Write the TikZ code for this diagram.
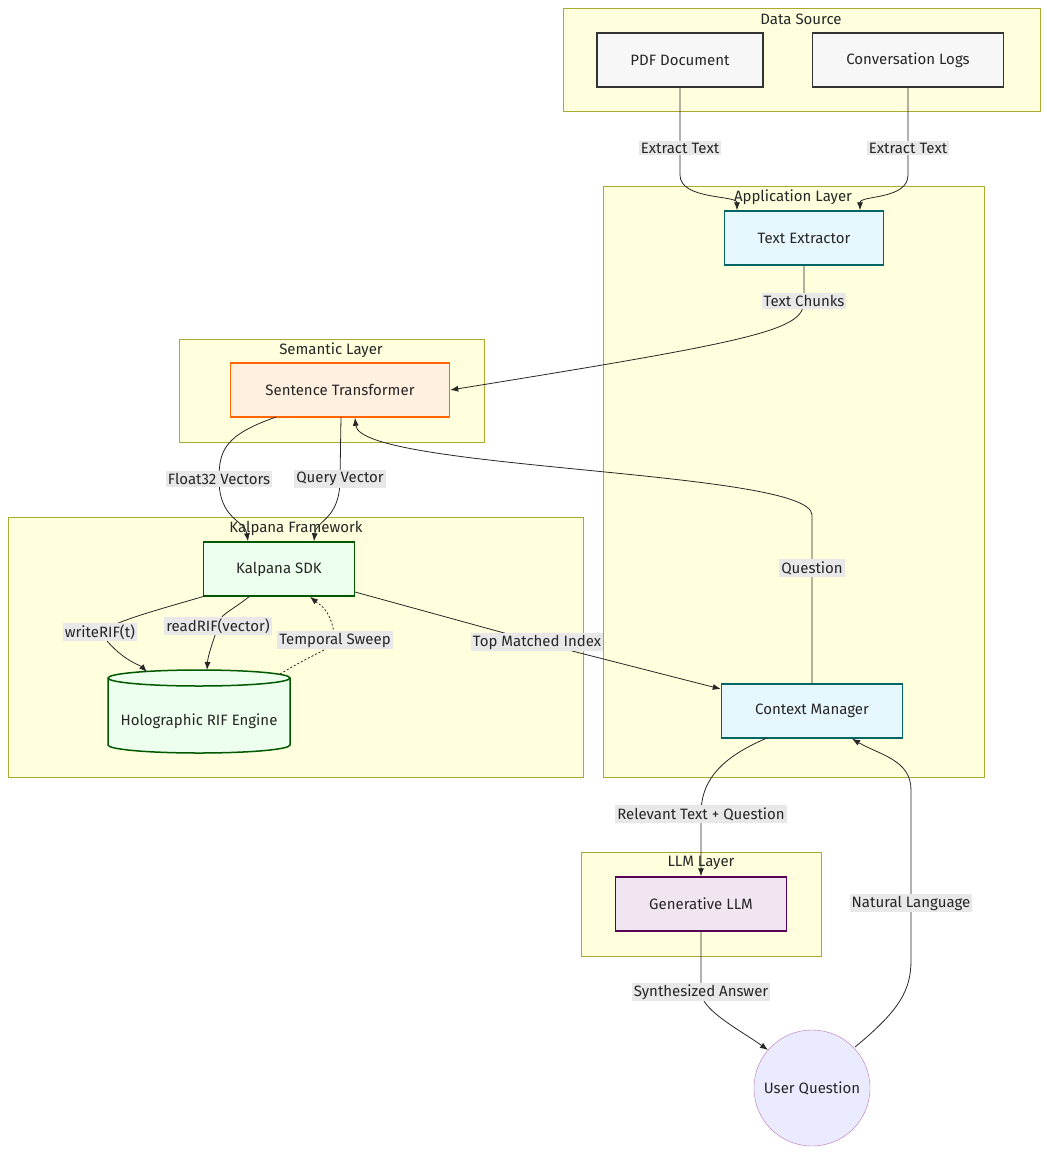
\documentclass[tikz,border=0pt]{standalone}
\usepackage{fontspec}
\setmainfont{Fira Sans}
\usetikzlibrary{arrows.meta}
\definecolor{clf}{HTML}{FFFFDE}\definecolor{clb}{HTML}{AAAA33}
\definecolor{lbg}{HTML}{E8E8E8}
\begin{document}
\begin{tikzpicture}[x=1pt,y=-1pt,font=\fontsize{15}{18}\selectfont,
 cl/.style={draw=clb,fill=clf,line width=0.8pt},
 ctitle/.style={inner sep=0pt,text=black!85},
 box/.style={draw,line width=1.5pt,minimum height=54pt,inner sep=0pt,text=black!85},
 gray/.style={box,fill=black!3,draw=black!80},
 teal/.style={box,fill=cyan!10,draw=teal!80!black},
 lbl/.style={fill=lbg,inner sep=2pt,text=black!85},
 e/.style={draw=black!85,line width=0.8pt,-{Latex[length=8pt,width=6pt]}}]
\useasboundingbox (0,0) rectangle (1048,1156);
% clusters
\draw[cl] (563,8) rectangle (1040,111); \node[ctitle] at (801,19) {Data Source};
\draw[cl] (603,186) rectangle (984,777); \node[ctitle] at (793,197) {Application Layer};
\draw[cl] (179,339) rectangle (484,442); \node[ctitle] at (331,350) {Semantic Layer};
\draw[cl] (8,517) rectangle (583,777); \node[ctitle] at (296,528) {Kalpana Framework};
\draw[cl] (581,852) rectangle (821,956); \node[ctitle] at (701,863) {LLM Layer};
% nodes
\node[gray,minimum width=166pt] (pdf) at (680,60) {PDF Document};
\node[gray,minimum width=191pt] (conv) at (908,60) {Conversation Logs};
\node[teal,minimum width=159pt] (te) at (804,238) {Text Extractor};
\node[box,fill=orange!12,draw=orange!80!red,minimum width=219pt] (st) at (340,390) {Sentence Transformer};
\node[box,fill=green!7,draw=green!35!black,minimum width=151pt] (sdk) at (279,569) {Kalpana SDK};
\node[teal,minimum width=181pt] (cm) at (812,711) {Context Manager};
\node[box,fill=violet!10,draw=violet!70!black,minimum width=171pt] (llm) at (701,904) {Generative LLM};
\node[circle,draw=violet!55,fill=blue!8,minimum size=116pt,inner sep=0pt,text=black!85] (uq) at (812,1088) {User Question};
\node[minimum width=182pt,minimum height=83pt] (eng) at (199,712) {};
\draw[fill=green!7,draw=green!35!black,line width=1.5pt] (108,678) arc[x radius=91,y radius=8,start angle=180,end angle=360] -- (290,745) arc[x radius=91,y radius=8,start angle=0,end angle=180] -- cycle;
\draw[draw=green!35!black,line width=1.5pt] (108,678) arc[x radius=91,y radius=8,start angle=180,end angle=0];
\node[text=black!85] at (199,721) {Holographic RIF Engine};
% label coords
\coordinate (l1) at (680,148); \coordinate (l2) at (908,148);
\coordinate (l3) at (804,301); \coordinate (l4) at (219,479);
\coordinate (l5) at (340,479); \coordinate (l6) at (812,568);
\coordinate (l7) at (100,632); \coordinate (l8) at (218,626);
\coordinate (l9) at (335,640); \coordinate (l10) at (537,642);
\coordinate (l11) at (701,814); \coordinate (l12) at (701,992);
\coordinate (l13) at (911,903);
% edges
\path[e] (pdf.south) -- (l1) -- (680,175) .. controls (680,200) and (737,195) .. (te.north west -| 737,0);
\path[e] (conv.south) -- (l2) -- (908,175) .. controls (908,200) and (860,195) .. (te.north east -| 860,0);
\path[e] (te.south) -- (l3) .. controls (804,330) and (760,340) .. (st.east);
\path[e] (276,417) .. controls (225,435) and (219,450) .. (l4) .. controls (219,520) and (245,520) .. (sdk.north west -| 248,0);
\path[e] (341,417) -- (l5) .. controls (340,520) and (316,520) .. (sdk.north west -| 314,0);
\path[e] (cm.north) -- (l6) -- (812,515) .. controls (812,470) and (360,470) .. (st.south west -| 355,0);
\path[e] (205,596) .. controls (150,612) and (120,620) .. (l7) .. controls (120,660) and (140,665) .. (147,672);
\path[e] (250,596) .. controls (230,612) and (218,615) .. (l8) .. controls (212,645) and (208,655) .. (207,670);
\path[e,dash pattern=on 2pt off 2pt] (280,674) .. controls (320,650) and (330,650) .. (l9) .. controls (332,610) and (320,605) .. (sdk.south west -| 310,0);
\path[e] (355,592) -- (l10) -- (cm.west |- 0,689);
\path[e] (767,738) .. controls (715,760) and (701,785) .. (l11) -- (llm.north);
\path[e] (llm.south) -- (l12) .. controls (701,1010) and (740,1030) .. (768,1050);
\path[e] (855,1047) .. controls (900,1010) and (911,990) .. (911,960) -- (l13) -- (911,790) .. controls (911,760) and (880,755) .. (cm.south west -| 852,0);
% labels
\node[lbl] at (l1) {Extract Text}; \node[lbl] at (l2) {Extract Text};
\node[lbl] at (l3) {Text Chunks}; \node[lbl] at (l4) {Float32 Vectors};
\node[lbl] at (l5) {Query Vector}; \node[lbl] at (l6) {Question};
\node[lbl] at (l7) {writeRIF(t)}; \node[lbl] at (l8) {readRIF(vector)};
\node[lbl] at (l9) {Temporal Sweep}; \node[lbl] at (l10) {Top Matched Index};
\node[lbl] at (l11) {Relevant Text + Question}; \node[lbl] at (l12) {Synthesized Answer};
\node[lbl] at (l13) {Natural Language};
\end{tikzpicture}
\end{document}
